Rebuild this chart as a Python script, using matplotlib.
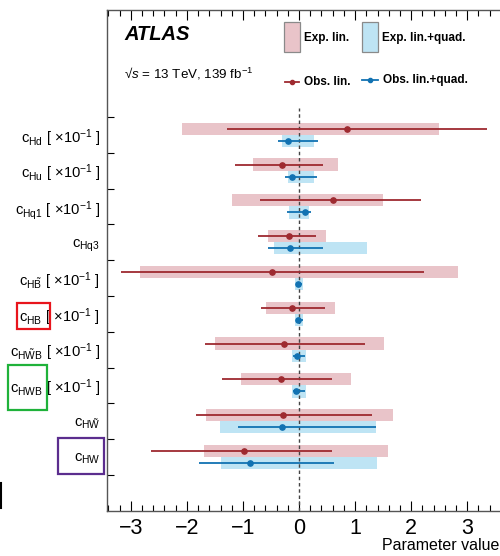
import numpy as np
import matplotlib.pyplot as plt
from matplotlib.patches import Rectangle
from matplotlib.lines import Line2D

plt.rcParams['font.family'] = ['Liberation Sans', 'DejaVu Sans']
plt.rcParams['mathtext.fontset'] = 'custom'
plt.rcParams['mathtext.rm'] = 'Liberation Sans'
plt.rcParams['mathtext.it'] = 'Liberation Sans:italic'
plt.rcParams['mathtext.bf'] = 'Liberation Sans:bold'

# --- Data (top row first) ---
labels = [
    r'$\mathrm{c}_{\mathrm{Hd}}$ [ $\times10^{-1}$ ]',
    r'$\mathrm{c}_{\mathrm{Hu}}$ [ $\times10^{-1}$ ]',
    r'$\mathrm{c}_{\mathrm{Hq1}}$ [ $\times10^{-1}$ ]',
    r'$\mathrm{c}_{\mathrm{Hq3}}$',
    r'$\mathrm{c}_{\mathrm{H\tilde{B}}}$ [ $\times10^{-1}$ ]',
    r'$\mathrm{c}_{\mathrm{HB}}$ [ $\times10^{-1}$ ]',
    r'$\mathrm{c}_{\mathrm{H\tilde{W}B}}$ [ $\times10^{-1}$ ]',
    r'$\mathrm{c}_{\mathrm{HWB}}$ [ $\times10^{-1}$ ]',
    r'$\mathrm{c}_{\mathrm{H\tilde{W}}}$',
    r'$\mathrm{c}_{\mathrm{HW}}$',
]

exp_lin_lo = [-2.09, -0.83, -1.19, -0.56, -2.83, -0.59, -1.50, -1.04, -1.66, -1.69]
exp_lin_hi = [2.50, 0.70, 1.50, 0.48, 2.83, 0.65, 1.51, 0.92, 1.67, 1.59]

obs_lin = [0.85, -0.30, 0.61, -0.18, -0.48, -0.12, -0.26, -0.32, -0.29, -0.99]
obs_lin_lo = [-1.28, -1.14, -0.69, -0.74, -3.17, -0.67, -1.68, -1.37, -1.84, -2.64]
obs_lin_hi = [3.36, 0.42, 2.17, 0.30, 2.23, 0.46, 1.18, 0.59, 1.31, 0.59]

exp_quad_lo = [-0.30, -0.20, -0.18, -0.44, -0.07, -0.07, -0.12, -0.12, -1.41, -1.40]
exp_quad_hi = [0.27, 0.26, 0.18, 1.21, 0.07, 0.07, 0.12, 0.12, 1.38, 1.39]

obs_quad = [-0.20, -0.12, 0.10, -0.16, -0.01, -0.02, -0.04, -0.05, -0.30, -0.87]
obs_quad_lo = [-0.37, -0.25, -0.22, -0.56, -0.06, -0.06, -0.10, -0.11, -1.09, -1.79]
obs_quad_hi = [0.34, 0.32, 0.21, 0.43, 0.06, 0.07, 0.11, 0.11, 1.37, 0.62]

c_exp_lin = '#e9c4c9'
c_exp_quad = '#bee4f4'
c_obs_lin = '#9e2a30'
c_obs_quad = '#1172b2'

W, H = 500, 556


def fx(px):
    return px / W


def fy(py):
    return 1 - py / H


fig = plt.figure(figsize=(5, 5.56), dpi=100)
ax = fig.add_axes([fx(107.3), fy(510.7), 402 / W, (510.7 - 9.5) / H])

n = len(labels)
y = np.arange(n, 0, -1).astype(float)
bh = 0.34

lo = np.array(exp_lin_lo)
hi = np.array(exp_lin_hi)
ax.barh(y, hi - lo, left=lo, height=bh, align='edge', color=c_exp_lin, lw=0, zorder=1)
lo = np.array(exp_quad_lo)
hi = np.array(exp_quad_hi)
ax.barh(y - bh, hi - lo, left=lo, height=bh, align='edge', color=c_exp_quad, lw=0, zorder=1)

ax.hlines(y + bh / 2, obs_lin_lo, obs_lin_hi, color=c_obs_lin, lw=1.3, zorder=3)
ax.plot(obs_lin, y + bh / 2, 'o', color=c_obs_lin, ms=3.8, zorder=4)
ax.hlines(y - bh / 2, obs_quad_lo, obs_quad_hi, color=c_obs_quad, lw=1.3, zorder=3)
ax.plot(obs_quad, y - bh / 2, 'o', color=c_obs_quad, ms=3.8, zorder=4)

ax.axvline(0, ymin=0, ymax=0.804, color='#444444', lw=1.0, ls=(0, (2.5, 2)), zorder=2)

ax.set_xlim(-3.42, 3.75)
ax.set_ylim(-0.5, 13.5)

# x ticks: majors every 1, 4 minors between, on both sides pointing in
ax.set_xticks(np.arange(-3, 4))
ax.set_xticklabels(['\u22123', '\u22122', '\u22121', '0', '1', '2', '3'])
ax.set_xticks(np.arange(-3.4, 3.8, 0.2), minor=True)
ax.tick_params(axis='x', which='both', direction='in', top=True, bottom=True)
ax.tick_params(axis='x', which='major', length=7, width=0.8, labelsize=15.5, pad=5)
ax.tick_params(axis='x', which='minor', length=4, width=0.8)

# y: labels at rows, ticks at row boundaries
ax.set_yticks(y)
ax.set_yticklabels(labels)
ax.set_yticks(np.arange(0.5, n + 1, 1.0), minor=True)
ax.tick_params(axis='y', which='major', length=0, labelsize=10.6, pad=5)
ax.tick_params(axis='y', which='minor', direction='in', length=5, width=0.8)

for s in ax.spines.values():
    s.set_linewidth(1.0)
    s.set_color('#555555')

fig.text(fx(499), fy(538), 'Parameter value', ha='right', va='top', fontsize=11.5)

# title block
fig.text(fx(124), fy(35), 'ATLAS', fontsize=14.5, fontweight='bold', fontstyle='italic',
         ha='left', va='center')
fig.text(fx(124), fy(74), '\u221a$s$ = 13 TeV, 139 fb$^{-1}$', fontsize=9.6,
         ha='left', va='center')

# legend
fig.add_artist(Rectangle((fx(284), fy(52)), 16 / W, 30 / H, transform=fig.transFigure,
                         facecolor=c_exp_lin, edgecolor='#8a8a8a', lw=0.9))
fig.add_artist(Rectangle((fx(362), fy(52)), 16 / W, 30 / H, transform=fig.transFigure,
                         facecolor=c_exp_quad, edgecolor='#8a8a8a', lw=0.9))
fig.text(fx(304), fy(38), 'Exp. lin.', fontsize=8.5, fontweight='bold', ha='left', va='center')
fig.text(fx(382), fy(38), 'Exp. lin.+quad.', fontsize=8.5, fontweight='bold', ha='left', va='center')
fig.add_artist(Line2D([fx(285), fx(299)], [fy(82), fy(82)], transform=fig.transFigure,
                      color=c_obs_lin, lw=1.3))
fig.add_artist(Line2D([fx(292)], [fy(82)], transform=fig.transFigure,
                      color=c_obs_lin, marker='o', ms=3))
fig.add_artist(Line2D([fx(362), fx(378)], [fy(80), fy(80)], transform=fig.transFigure,
                      color=c_obs_quad, lw=1.3))
fig.add_artist(Line2D([fx(370)], [fy(80)], transform=fig.transFigure,
                      color=c_obs_quad, marker='o', ms=3))
fig.text(fx(304), fy(82), 'Obs. lin.', fontsize=8.5, fontweight='bold', ha='left', va='center')
fig.text(fx(383), fy(80), 'Obs. lin.+quad.', fontsize=8.5, fontweight='bold', ha='left', va='center')

# highlight frames around some labels
fig.add_artist(Rectangle((fx(17), fy(329.3)), 33 / W, 26 / H, transform=fig.transFigure,
                         fill=False, edgecolor='#e8141c', lw=1.6))
fig.add_artist(Rectangle((fx(8), fy(410)), 39.3 / W, 45 / H, transform=fig.transFigure,
                         fill=False, edgecolor='#1fb23a', lw=1.6))
fig.add_artist(Rectangle((fx(58.3), fy(474)), 45.7 / W, 35.7 / H, transform=fig.transFigure,
                         fill=False, edgecolor='#5b2d8e', lw=1.6))
fig.add_artist(Line2D([fx(1), fx(1)], [fy(483), fy(508)], transform=fig.transFigure,
                      color='black', lw=1.5))

plt.savefig('out.png', dpi=100)
plt.close()
